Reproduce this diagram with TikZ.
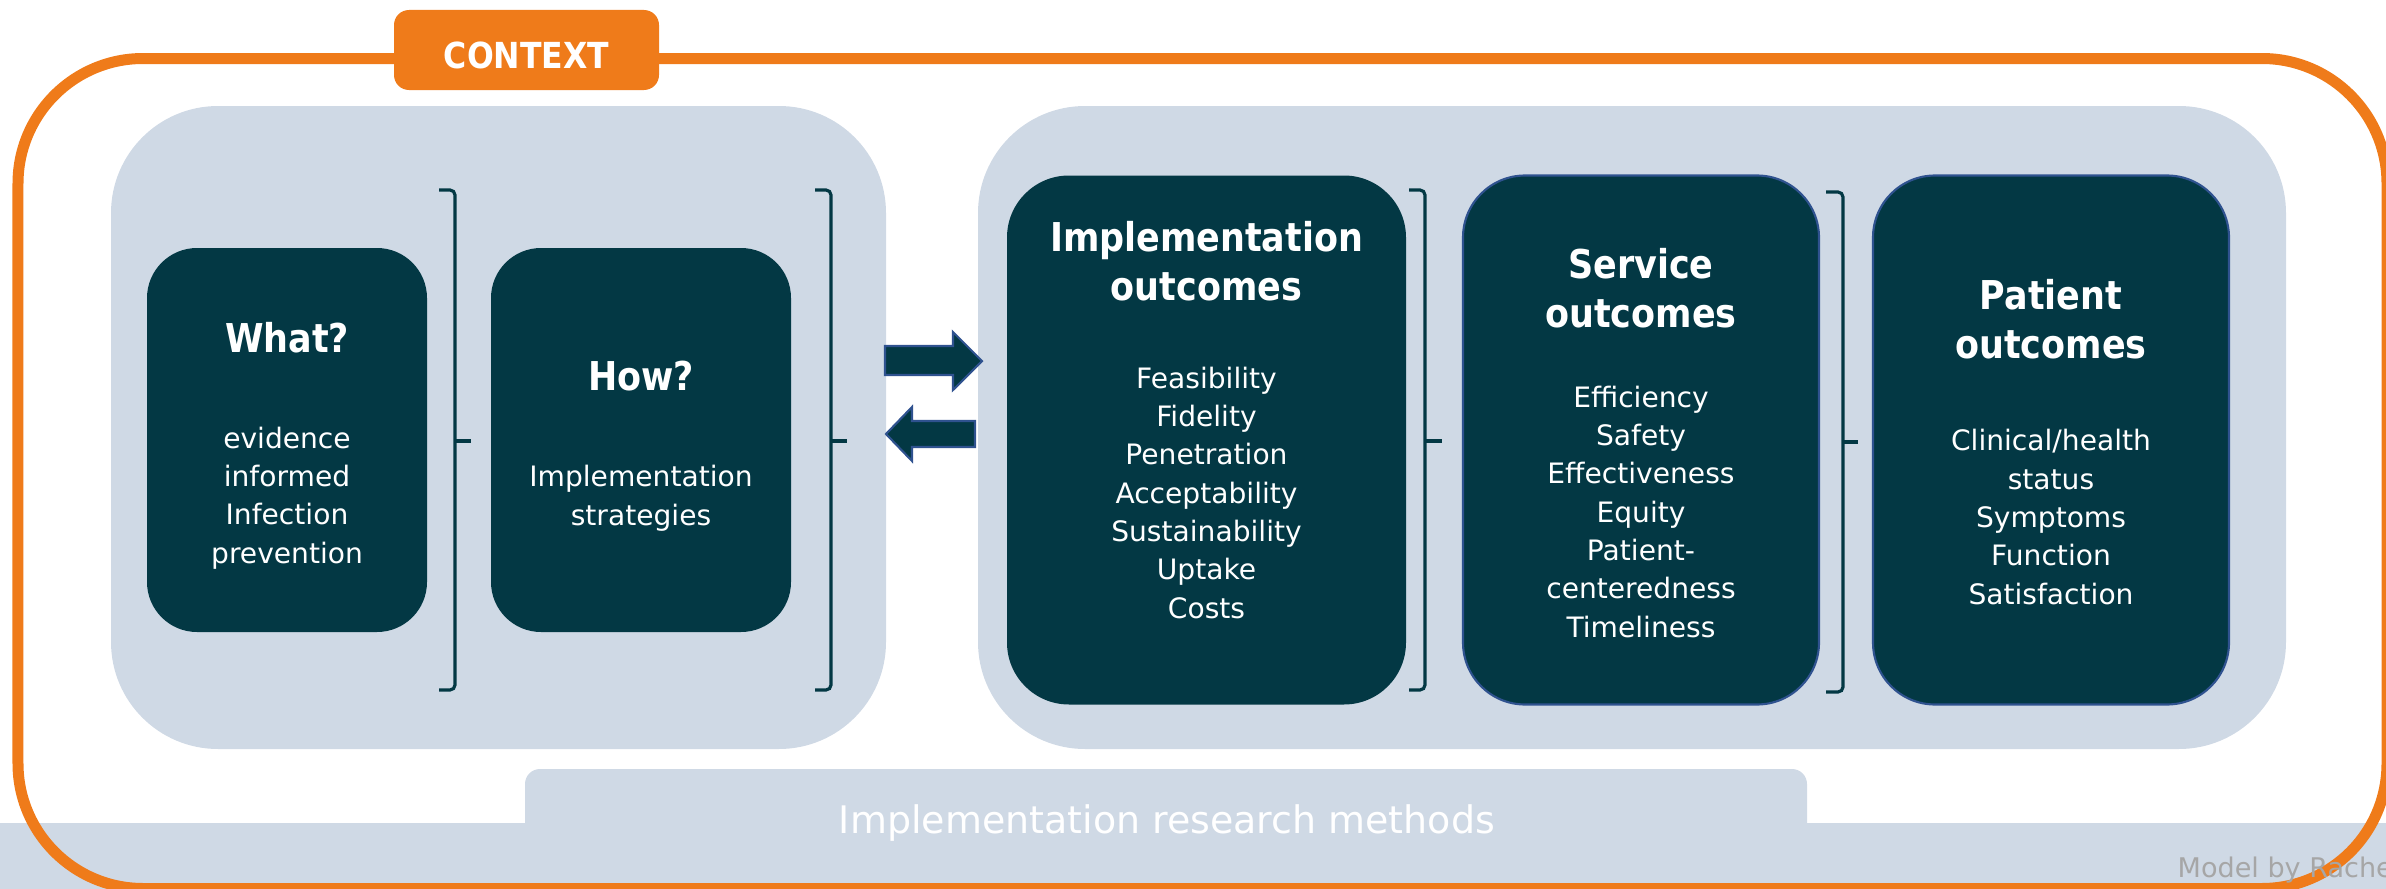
\documentclass[tikz,border=0pt]{standalone}
\usepackage{fontspec}
\setmainfont{DejaVu Sans}[BoldFeatures={FakeStretch=0.88}]
\definecolor{boxteal}{RGB}{3,56,68}
\definecolor{panelblue}{RGB}{207,217,229}
\definecolor{ctxorange}{RGB}{239,123,26}
\definecolor{edgeblue}{RGB}{47,82,143}
\definecolor{notegrey}{RGB}{166,166,166}

\tikzset{
  panel/.style={fill=panelblue, rounded corners=1.07cm, inner sep=0pt},
  smallbox/.style={fill=boxteal, rounded corners=0.5cm, inner sep=0pt, minimum height=3.84cm},
  outbox/.style={fill=boxteal, rounded corners=0.62cm, inner sep=0pt, minimum height=5.29cm},
  boxtitle/.style={text=white, font=\bfseries\fontsize{11.3}{13.9}\selectfont, align=center, anchor=base, inner sep=0pt},
  boxitems/.style={text=white, font=\fontsize{8}{10.9}\selectfont, align=center, anchor=base, inner sep=0pt},
  bracket/.style={draw=boxteal, line width=0.9pt, rounded corners=0.05cm},
  blockarrow/.style={fill=boxteal, draw=edgeblue, line width=0.6pt}
}

\begin{document}
\begin{tikzpicture}
\useasboundingbox (0,0) rectangle (23.86,-8.89);
% bottom band
\fill[panelblue] (0,-8.23) rectangle (23.86,-8.89);
\node[panel, rounded corners=0.15cm, minimum width=12.82cm, minimum height=0.9cm] (methods) at (11.66,-8.14) {};
\node[text=white, font=\fontsize{10.8}{13}\selectfont, anchor=base, inner sep=0pt] (methodsT) at (11.67,-8.33) {Implementation research methods};

% context frame
\draw[ctxorange, line width=0.11cm, rounded corners=1.25cm] (0.18,-0.585) rectangle (23.87,-8.885);
\node[fill=ctxorange, rounded corners=0.15cm, minimum width=2.65cm, minimum height=0.8cm] (context) at (5.265,-0.50) {};
\node[text=white, font=\bfseries\fontsize{10.2}{12}\selectfont, inner sep=0pt] (contextT) at (5.265,-0.55) {CONTEXT};

% panels
\node[panel, minimum width=7.75cm, minimum height=6.43cm] (leftpanel) at (4.985,-4.275) {};
\node[panel, minimum width=13.08cm, minimum height=6.43cm] (rightpanel) at (16.32,-4.275) {};

% boxes
\node[smallbox, minimum width=2.80cm] (what) at (2.87,-4.40) {};
\node[smallbox, minimum width=3.00cm] (how) at (6.41,-4.40) {};
\node[outbox, minimum width=3.99cm] (impl) at (12.065,-4.40) {};
\node[outbox, draw=edgeblue, line width=0.6pt, minimum width=3.56cm] (service) at (16.41,-4.40) {};
\node[outbox, draw=edgeblue, line width=0.6pt, minimum width=3.56cm] (patient) at (20.51,-4.40) {};

% brackets
\draw[bracket] (4.39,-1.90) -- (4.55,-1.90) -- (4.55,-6.90) -- (4.39,-6.90);
\draw[bracket] (4.55,-4.41) -- (4.71,-4.41);
\draw[bracket] (8.15,-1.90) -- (8.31,-1.90) -- (8.31,-6.90) -- (8.15,-6.90);
\draw[bracket] (8.31,-4.41) -- (8.47,-4.41);
\draw[bracket] (14.09,-1.90) -- (14.25,-1.90) -- (14.25,-6.90) -- (14.09,-6.90);
\draw[bracket] (14.25,-4.41) -- (14.42,-4.41);
\draw[bracket] (18.26,-1.92) -- (18.43,-1.92) -- (18.43,-6.92) -- (18.26,-6.92);
\draw[bracket] (18.43,-4.42) -- (18.58,-4.42);

% arrows
\filldraw[blockarrow] (8.85,-3.46) -- (9.53,-3.46) -- (9.53,-3.32) -- (9.82,-3.61) -- (9.53,-3.90) -- (9.53,-3.75) -- (8.85,-3.75) -- cycle;
\filldraw[blockarrow] (9.75,-4.21) -- (9.12,-4.21) -- (9.12,-4.07) -- (8.86,-4.34) -- (9.12,-4.61) -- (9.12,-4.47) -- (9.75,-4.47) -- cycle;

% texts (anchor = baseline of last line)
\node[boxtitle] (whatT) at (2.87,-3.52) {What?};
\node[boxitems] (whatL) at (2.87,-5.63) {evidence\\informed\\Infection\\prevention};
\node[boxtitle] (howT) at (6.41,-3.90) {How?};
\node[boxitems] (howL) at (6.41,-5.25) {Implementation\\strategies};
\node[boxtitle] (implT) at (12.065,-3.00) {Implementation\\outcomes};
\node[boxitems] (implL) at (12.065,-6.18) {Feasibility\\Fidelity\\Penetration\\Acceptability\\Sustainability\\Uptake\\Costs};
\node[boxtitle] (serviceT) at (16.41,-3.27) {Service\\outcomes};
\node[boxitems] (serviceL) at (16.41,-6.37) {Efficiency\\Safety\\Effectiveness\\Equity\\Patient-\\centeredness\\Timeliness};
\node[boxtitle] (patientT) at (20.51,-3.58) {Patient\\outcomes};
\node[boxitems] (patientL) at (20.51,-6.04) {Clinical/health\\status\\Symptoms\\Function\\Satisfaction};

\node[text=notegrey, font=\fontsize{7.7}{9}\selectfont, anchor=base west, inner sep=0pt] (credit) at (21.77,-8.77) {Model by Rache};
\end{tikzpicture}
\end{document}
